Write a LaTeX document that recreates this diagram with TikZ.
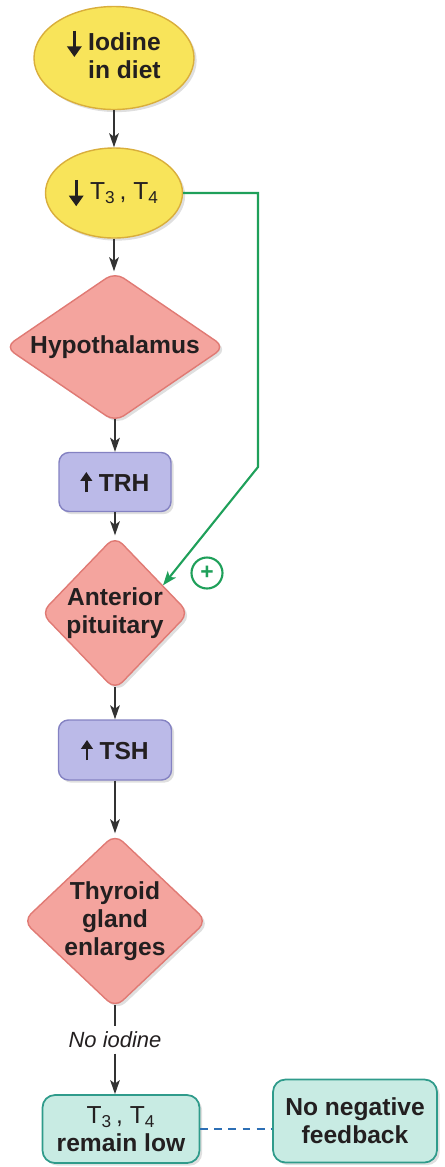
\documentclass[tikz,border=0pt]{standalone}
\usepackage{fontspec}
\setmainfont{Liberation Sans}
\usetikzlibrary{shapes.geometric,shadows,arrows.meta}

\definecolor{ovalfill}{HTML}{F8E45A}
\definecolor{ovaldraw}{HTML}{D9AE3C}
\definecolor{organfill}{HTML}{F4A49E}
\definecolor{organdraw}{HTML}{E07A74}
\definecolor{hormfill}{HTML}{BBBAE8}
\definecolor{hormdraw}{HTML}{8482C2}
\definecolor{endfill}{HTML}{C8EBE3}
\definecolor{enddraw}{HTML}{2F9B8B}
\definecolor{fbgreen}{HTML}{1FA05A}
\definecolor{dashblue}{HTML}{2D6FB5}
\definecolor{ink}{HTML}{231F20}
\definecolor{arrowgray}{HTML}{333333}

% small bold arrows standing before the texts
\newcommand{\lowarrow}{\tikz[baseline=0pt]\draw[ink, line width=1.8pt, -{Triangle[length=6pt,width=8pt]}] (0,0.4) -- (0,-0.13);}
\newcommand{\higharrow}{\tikz[baseline=0pt]\draw[ink, line width=1.5pt, -{Triangle[length=5pt,width=6.5pt]}] (0,-0.02) -- (0,0.38);}

\tikzset{
	softshadow/.style={drop shadow={opacity=0.25,shadow xshift=1.5pt,shadow yshift=-1.5pt}},
	oval/.style={ellipse, draw=ovaldraw, fill=ovalfill, line width=0.8pt, inner sep=0pt, softshadow},
	organ/.style={diamond, draw=organdraw, fill=organfill, line width=0.8pt, rounded corners=6pt, inner sep=-3pt, align=center, softshadow},
	hormone/.style={rectangle, draw=hormdraw, fill=hormfill, line width=0.8pt, rounded corners=0.2cm, softshadow},
	result/.style={rectangle, draw=enddraw, fill=endfill, line width=1pt, rounded corners=0.25cm, inner sep=2pt, align=center, softshadow},
	link/.style={-{Stealth[length=8pt,width=5.5pt,inset=2pt]}, draw=arrowgray, line width=0.8pt},
	tiplink/.style={link, shorten <=-2pt},
	feedback/.style={-{Stealth[length=8pt,width=6pt,inset=2pt]}, draw=fbgreen, line width=1.2pt},
	plussign/.style={circle, draw=fbgreen, text=fbgreen, line width=1.2pt, minimum size=0.62cm, inner sep=0pt},
}

\begin{document}
\begin{tikzpicture}[font=\fontsize{14}{16}\selectfont\bfseries, text=ink]
	\useasboundingbox (0,0) rectangle (8.9,-23.34);

	\node[oval, minimum width=3.2cm, minimum height=2.06cm] (iodine) at (2.28,-1.16) {\lowarrow\ \begin{tabular}[t]{@{}l@{}}Iodine\\in diet\end{tabular}};
	\node[oval, minimum width=2.74cm, minimum height=1.8cm] (t34) at (2.28,-3.86) {\lowarrow\ {\mdseries T\textsubscript{3}\,, T\textsubscript{4}}};
	\node[organ, aspect=1.5, minimum width=4.4cm, minimum height=3.0cm] (hypo) at (2.3,-6.94) {Hypothalamus};
	\node[hormone, minimum width=2.24cm, minimum height=1.18cm] (trh) at (2.3,-9.64) {\higharrow\ TRH};
	\node[organ, aspect=1, minimum width=2.96cm, minimum height=3.08cm] (ant) at (2.3,-12.26) {Anterior\\pituitary};
	\node[hormone, minimum width=2.26cm, minimum height=1.2cm] (tsh) at (2.3,-15.0) {\higharrow\ TSH};
	\node[organ, aspect=1.06, minimum width=3.68cm, minimum height=3.48cm] (thy) at (2.3,-18.42) {Thyroid\\gland\\enlarges};
	\node[font=\fontsize{12.5}{14}\selectfont\itshape, inner sep=3pt] (noio) at (2.3,-20.8) {No iodine};
	\node[result, minimum width=3.14cm, minimum height=1.36cm] (low) at (2.42,-22.58) {{\mdseries T\textsubscript{3}\,, T\textsubscript{4}}\\remain low};
	\node[result, minimum width=3.28cm, minimum height=1.66cm] (nofb) at (7.1,-22.42) {No negative\\feedback};
	\node[plussign, font=\fontsize{13}{13}\selectfont\bfseries] (plus) at (4.14,-11.46) {+};
	\coordinate (fbturn) at (5.16,-9.34);

	\draw[link] (iodine) -- (t34);
	\draw[link] (t34) -- (t34 |- hypo.north);
	\draw[tiplink] (hypo) -- (trh);
	\draw[link] (trh) -- (ant);
	\draw[tiplink] (ant) -- (tsh);
	\draw[link] (tsh) -- (thy);
	\draw[draw=arrowgray, line width=0.8pt, shorten <=-2pt] (thy) -- (noio);
	\draw[link] (noio) -- (noio |- low.north);
	\draw[feedback] (t34) -| (fbturn) -- (ant.30);
	\draw[dashblue, dashed, dash pattern=on 4.5pt off 3.5pt, line width=1pt] (low.east) -- (low.east -| nofb.west);
\end{tikzpicture}
\end{document}
